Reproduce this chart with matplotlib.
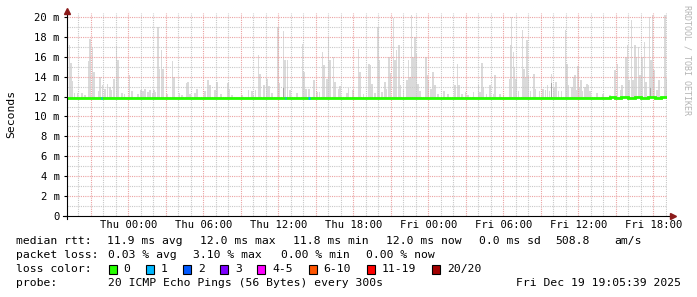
import matplotlib
matplotlib.use('Agg')
import matplotlib.pyplot as plt
from matplotlib.patches import Rectangle
import numpy as np

W, H, DPI = 697, 297, 100
MONO = 'DejaVu Sans Mono'

# ---------------- data ----------------
# time axis: hours since Wed Dec 17 19:05:39 2025, graph spans 48 hours
span_hours = 48.0
first_midnight = 4.906          # Thu 00:00 in hours since start
tick_labels = ['Thu 00:00', 'Thu 06:00', 'Thu 12:00', 'Thu 18:00',
               'Fri 00:00', 'Fri 06:00', 'Fri 12:00', 'Fri 18:00']

# smoke (ping spread): highest ping per step, ms
smoke_hours = [0.20, 0.32, 0.44, 0.60, 0.84, 1.20, 1.44, 1.72, 1.84, 2.04, 2.16, 2.52, 2.64, 2.84,
               3.04, 3.24, 3.44, 3.56, 3.76, 3.96, 4.08, 4.40, 4.60, 5.00, 5.20, 5.68, 5.92, 6.08,
               6.24, 6.48, 6.64, 6.88, 6.96, 7.08, 7.28, 7.40, 7.56, 7.68, 8.00, 8.44, 8.56, 9.00,
               9.20, 9.56, 9.68, 9.84, 10.24, 10.40, 11.04, 11.28, 11.44, 11.84, 12.00, 12.32, 12.88,
               13.00, 13.20, 14.00, 14.52, 14.80, 14.92, 15.08, 15.32, 15.44, 15.76, 15.96, 16.04,
               16.16, 16.40, 16.88, 16.96, 17.32, 17.44, 17.62, 17.84, 18.40, 18.84, 18.96, 19.12,
               19.36, 19.76, 20.00, 20.20, 20.44, 20.56, 20.80, 20.92, 21.04, 21.32, 21.44, 21.72,
               21.84, 22.40, 22.52, 22.88, 23.32, 23.44, 23.72, 24.16, 24.28, 24.40, 24.64, 24.88,
               24.96, 25.20, 25.44, 25.56, 25.76, 25.84, 26.12, 26.24, 26.36, 26.56, 26.68, 26.92,
               27.20, 27.32, 27.44, 27.56, 27.68, 27.84, 27.96, 28.08, 28.24, 28.72, 28.80, 28.92,
               29.12, 29.28, 29.44, 29.68, 30.16, 30.48, 31.04, 31.24, 31.36, 31.60, 31.88, 32.08,
               32.52, 32.92, 33.04, 33.20, 33.32, 33.56, 33.84, 34.12, 34.24, 34.64, 34.92, 35.40,
               35.48, 35.56, 35.72, 35.80, 35.92, 36.12, 36.44, 36.56, 36.68, 36.80, 36.92, 37.08,
               37.36, 37.48, 37.80, 38.08, 38.28, 38.44, 38.60, 38.76, 38.96, 39.12, 39.32, 39.56,
               39.88, 40.00, 40.12, 40.40, 40.52, 40.64, 40.80, 40.88, 41.04, 41.12, 41.24, 41.44,
               41.60, 41.72, 41.84, 42.40, 42.88, 43.44, 43.84, 44.04, 44.28, 44.40, 44.72, 44.84,
               44.96, 45.16, 45.28, 45.44, 45.56, 45.72, 45.84, 46.00, 46.20, 46.32, 46.60, 46.72,
               46.84, 46.96, 47.20, 47.36, 47.84, 47.92]
smoke_max_ms = [17.2, 15.4, 13.6, 12.4, 12.4, 12.4, 12.2, 15.6, 17.8, 17.0, 14.5, 12.6, 14.0, 13.2,
                12.8, 13.3, 13.0, 12.7, 13.8, 17.1, 15.7, 12.4, 12.3, 14.2, 12.6, 12.3, 12.7, 12.6,
                12.8, 12.5, 12.7, 12.4, 12.7, 12.5, 19.0, 14.8, 16.7, 14.8, 12.3, 15.6, 14.0, 12.4,
                12.2, 13.4, 13.5, 12.3, 12.4, 12.8, 12.6, 13.7, 13.2, 12.7, 13.5, 12.3, 13.4,
                12.8, 12.2, 12.2, 12.7, 12.6, 12.2, 12.7, 16.2, 14.3, 13.2, 13.9, 13.8,
                13.1, 12.4, 19.0, 13.4, 18.6, 15.7, 15.7, 12.7, 12.4, 17.3, 14.5, 12.8,
                12.8, 13.7, 12.5, 12.5, 16.5, 15.2, 13.8, 18.0, 15.7, 16.0, 13.5, 12.8,
                13.1, 12.4, 12.9, 12.7, 16.8, 14.5, 12.3, 15.3, 15.2, 13.3, 12.4, 19.0,
                15.7, 12.5, 13.5, 12.8, 16.0, 14.4, 19.9, 15.7, 16.7, 17.2, 13.2, 12.7,
                13.7, 15.7, 14.0, 20.2, 16.0, 18.0, 16.3, 13.3, 12.6, 16.0, 14.2, 13.7,
                12.8, 14.5, 13.2, 12.3, 12.6, 12.3, 13.2, 15.3, 13.2, 12.3, 12.5, 12.2,
                12.5, 13.2, 12.5, 15.4, 13.0, 12.3, 13.2, 12.3, 14.2, 12.3, 12.2, 13.8,
                17.2, 20.0, 16.5, 15.0, 13.8, 12.6, 18.7, 14.8, 14.0, 17.7, 14.2, 12.6,
                14.3, 12.8, 12.6, 12.8, 12.7, 13.2, 12.6, 14.3, 12.9, 13.5, 12.6, 12.6,
                18.7, 15.3, 13.2, 13.0, 14.0, 14.2, 12.7, 15.1, 13.0, 13.7, 12.6, 13.0,
                13.3, 13.2, 12.6, 12.4, 12.3, 12.2, 14.7, 15.3, 12.7, 13.2, 16.0, 17.2,
                13.7, 19.7, 13.7, 17.2, 16.0, 17.0, 14.2, 16.0, 17.5, 13.5, 20.0, 15.7,
                20.2, 14.7, 12.7, 13.7, 20.2, 13.8]

# denser part of the smoke (several pings high), ms
dark_hours = [1.76, 17.32, 38.76, 43.84, 46.70, 47.84]
dark_max_ms = [15.4, 13.0, 13.4, 14.6, 12.9, 14.0]

# median rtt, ms (step values)
median_hours = [0.0, 43.4, 43.8, 44.3, 44.9, 45.4, 45.9, 46.5, 47.0, 47.5, 48.0]
median_ms = [11.9, 12.0, 11.9, 12.0, 11.9, 12.0, 11.9, 12.0, 11.9, 12.0, 12.0]

# steps with packet loss (1 of 20 lost)
loss_hours = [2.78, 17.50, 19.36]
loss_ms = [11.9, 11.9, 11.9]

yticks_ms = [0, 2, 4, 6, 8, 10, 12, 14, 16, 18, 20]
ytick_labels = ['0', '2 m', '4 m', '6 m', '8 m', '10 m', '12 m', '14 m', '16 m', '18 m', '20 m']

loss_labels = ['0', '1', '2', '3', '4-5', '6-10', '11-19', '20/20']
loss_colors = ['#26ff00', '#00b8ff', '#0059ff', '#7e00ff', '#ff00ff', '#ff5500', '#ff0000', '#a10000']

rtt_items = ['median rtt:', '11.9 ms avg', '12.0 ms max', '11.8 ms min', '12.0 ms now',
             '0.0 ms sd', '508.8', 'am/s']
loss_items = ['packet loss:', '0.03 % avg', '3.10 % max', '0.00 % min', '0.00 % now']
probe_items = ['probe:', '20 ICMP Echo Pings (56 Bytes) every 300s']
date_text = 'Fri Dec 19 19:05:39 2025'

# ---------------- drawing ----------------
fig = plt.figure(figsize=(W / DPI, H / DPI), dpi=DPI)
fig.patch.set_facecolor('white')


def fx(px):
    return px / W


def fy(py):
    return 1 - py / H


ax = fig.add_axes([fx(67), fy(215.5), 600 / W, 203 / H])
ax.set_facecolor('white')
ax.set_xlim(0, span_hours)
ax.set_ylim(0, 20.5)
for s in ax.spines.values():
    s.set_visible(False)

base = median_ms[0]
ax.bar(smoke_hours, np.array(smoke_max_ms) - base, bottom=base, width=0.09,
       color='#dadada', linewidth=0, zorder=2)
ax.bar(dark_hours, np.array(dark_max_ms) - base, bottom=base, width=0.06,
       color='#a6a6a6', linewidth=0, zorder=2.1)

# grid
minor_c = '#c8c8c8'
major_c = '#eba3a3'
hour_lines = np.arange(first_midnight - 4, span_hours, 1.0)
for h in hour_lines:
    k = int(round(h - first_midnight))
    c = major_c if k % 3 == 0 else minor_c
    ax.axvline(h, color=c, lw=0.8, ls=(0, (1, 1)), zorder=3)
for v in range(1, 21):
    c = major_c if v % 2 == 0 else minor_c
    ax.axhline(v, color=c, lw=0.8, ls=(0, (1, 1)), zorder=3)

# median line and loss colouring
ax.step(median_hours, median_ms, where='post', color='#26ff00', lw=2.0, zorder=4,
        solid_joinstyle='miter')
ax.hlines(loss_ms, np.array(loss_hours) - 0.05, np.array(loss_hours) + 0.05,
          color=loss_colors[1], lw=2.0, zorder=5)

# axes lines and arrows
ax.plot([-4 / 600, 1 + 4 / 600], [0, 0], color='black', lw=0.8,
        transform=ax.transAxes, clip_on=False, zorder=6)
ax.plot([0, 0], [-3 / 203, 1.0], color='black', lw=0.8,
        transform=ax.transAxes, clip_on=False, zorder=6)
ax.plot([0], [1 + 1.5 / 203], marker='^', ms=4.5, color='#8b1a1a', mec='#8b1a1a',
        transform=ax.transAxes, clip_on=False, zorder=7)
ax.plot([1 + 6 / 600], [0], marker='>', ms=4.5, color='#8b1a1a', mec='#8b1a1a',
        transform=ax.transAxes, clip_on=False, zorder=7)

# ticks
label_pos = first_midnight + 6 * np.arange(len(tick_labels))
ax.set_xticks(label_pos)
ax.set_xticklabels(tick_labels, fontfamily=MONO, fontsize=7.6)
ax.tick_params(axis='x', length=0, pad=3.0)
ax.set_yticks(yticks_ms)
ax.set_yticklabels(ytick_labels, fontfamily=MONO, fontsize=7.6)
ax.tick_params(axis='y', length=2.2, width=0.8, pad=3.0, color='black')

fig.text(fx(11), fy(114), 'Seconds', rotation=90, ha='center', va='center',
         fontfamily=MONO, fontsize=8.2)
fig.text(fx(687), fy(5), 'RRDTOOL / TOBI OETIKER', rotation=270, ha='center', va='top',
         fontfamily=MONO, fontsize=6.0, color='#b4b4b4')

# legend block
rtt_x = [16, 107, 200, 293, 386, 479, 555, 614]
for t, x in zip(rtt_items, rtt_x):
    fig.text(fx(x), fy(241), t, ha='left', va='center', fontfamily=MONO, fontsize=8.2)
loss_x = [16, 107.7, 193.5, 280.6, 366.4]
for t, x in zip(loss_items, loss_x):
    fig.text(fx(x), fy(255), t, ha='left', va='center', fontfamily=MONO, fontsize=8.2)

fig.text(fx(16), fy(269), 'loss color:', ha='left', va='center', fontfamily=MONO, fontsize=8.2)
bx = 108.6
for lab, col in zip(loss_labels, loss_colors):
    fig.patches.append(Rectangle((fx(bx), fy(269 + 5)), 8 / W, 9.5 / H, transform=fig.transFigure,
                                 facecolor=col, edgecolor='black', lw=0.8))
    tx = bx + 15
    fig.text(fx(tx), fy(269), lab, ha='left', va='center', fontfamily=MONO, fontsize=8.2)
    bx = tx + 7 * len(lab) + 15.2

probe_x = [16, 108]
for t, x in zip(probe_items, probe_x):
    fig.text(fx(x), fy(283), t, ha='left', va='center', fontfamily=MONO, fontsize=8.2)
fig.text(fx(681), fy(283), date_text, ha='right', va='center', fontfamily=MONO, fontsize=8.2)

fig.savefig('out.png', dpi=DPI, facecolor='white')
